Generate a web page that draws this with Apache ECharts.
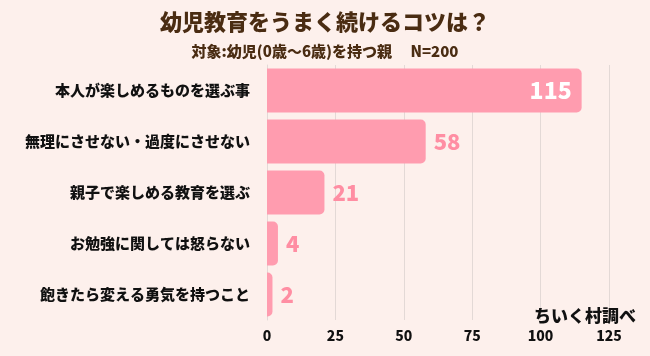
<!DOCTYPE html>
<html><head><meta charset="utf-8">
<script src="https://cdn.jsdelivr.net/npm/echarts@6/dist/echarts.min.js"></script>
<style>html,body{margin:0;padding:0;background:#fdf0ec;}#c{width:650px;height:356px;}</style>
</head><body><div id="c"></div>
<script>
var categories = ['本人が楽しめるものを選ぶ事','無理にさせない・過度にさせない','親子で楽しめる教育を選ぶ','お勉強に関しては怒らない','飽きたら変える勇気を持つこと'];
var values = [115, 58, 21, 4, 2];
var xTicks = [0, 25, 50, 75, 100, 125];
var FONT = '"Noto Sans CJK JP", sans-serif';
var chart = echarts.init(document.getElementById('c'));
chart.setOption({
  backgroundColor: '#fdf0ec',
  animation: false,
  title: [
    {text: '幼児教育をうまく続けるコツは？', left: 'center', top: 6,
     textStyle: {fontFamily: FONT, fontSize: 22, fontWeight: 900, color: '#4a2c12'}},
    {text: '対象:幼児(0歳～6歳)を持つ親　 N=200', left: 'center', top: 39,
     textStyle: {fontFamily: FONT, fontSize: 15, fontWeight: 900, color: '#4a2c12'}},
    {text: 'ちいく村調べ', right: 9, top: 302,
     textStyle: {fontFamily: FONT, fontSize: 17, fontWeight: 900, color: '#111'}}
  ],
  grid: {left: 267, right: 41, top: 65, height: 255},
  xAxis: {type: 'value', min: xTicks[0], max: xTicks[xTicks.length-1], interval: 25,
    axisLine: {show: false}, axisTick: {show: false},
    splitLine: {lineStyle: {color: '#e3d9d6', width: 1}},
    axisLabel: {fontFamily: FONT, fontSize: 14, fontWeight: 900, color: '#111', margin: 9}},
  yAxis: {type: 'category', data: categories, inverse: true,
    axisLine: {show: true, lineStyle: {color: '#e3d9d6'}}, axisTick: {show: false},
    axisLabel: {fontFamily: FONT, fontSize: 15, fontWeight: 900, color: '#111', margin: 17}},
  series: [{type: 'bar', data: values.map(function(v, i){
      return i === 0 ? {value: v, label: {position: 'insideRight', color: '#fff', fontSize: 23, offset: [-2, 0]}} : {value: v};
    }),
    barWidth: 44,
    itemStyle: {color: '#ff9caf', borderRadius: [0, 5, 5, 0]},
    label: {show: true, position: 'right', distance: 8, fontFamily: FONT, fontWeight: 900, fontSize: 22, color: '#ff8ea3'}
  }]
});
</script></body></html>
